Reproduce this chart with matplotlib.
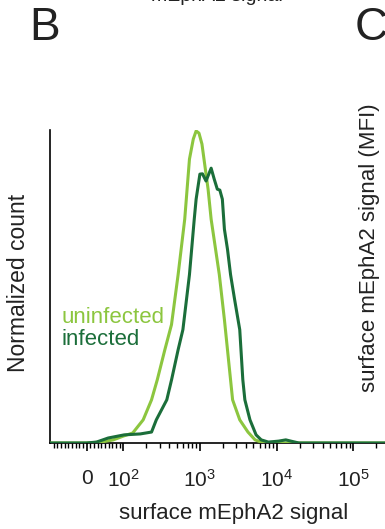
import matplotlib
matplotlib.use("Agg")
import matplotlib.pyplot as plt
import numpy as np

plt.rcParams["font.family"] = ["Liberation Sans", "DejaVu Sans"]
plt.rcParams["mathtext.fontset"] = "custom"
plt.rcParams["mathtext.rm"] = "Liberation Sans"
plt.rcParams["mathtext.it"] = "Liberation Sans"

C_LIGHT = "#8CC63F"
C_DARK = "#1B6E3A"

# histograms (signal, normalized count)
uninf_x = [-100, 0, 40, 73, 100, 133, 182, 234, 278, 349, 426, 520, 634, 731,
           820, 893, 973, 1064, 1131, 1279, 1402, 1792, 2089, 2362, 2671,
           3311, 4236, 5248, 6714, 2.6e5]
uninf_y = [0, 0, 0.003, 0.01, 0.022, 0.032, 0.074, 0.138, 0.202, 0.298, 0.378,
           0.538, 0.715, 0.907, 0.971, 0.997, 0.990, 0.955, 0.907, 0.811,
           0.715, 0.538, 0.394, 0.266, 0.138, 0.074, 0.035, 0.01, 0, 0]

inf_x = [-100, 0, 27, 59, 103, 167, 234, 270, 370, 427, 520, 600, 731, 844,
         893, 1000, 1080, 1202, 1402, 1538, 1687, 1820, 1963, 2089, 2291,
         2512, 2839, 3311, 3631, 3861, 4500, 5408, 6310, 7820, 10637, 13200,
         15400, 19600, 2.6e5]
inf_y = [0, 0, 0.003, 0.016, 0.026, 0.029, 0.035, 0.074, 0.138, 0.202, 0.298,
         0.362, 0.538, 0.715, 0.779, 0.859, 0.860, 0.837, 0.878, 0.843,
         0.811, 0.808, 0.779, 0.683, 0.619, 0.538, 0.458, 0.362, 0.202,
         0.138, 0.074, 0.026, 0.01, 0.003, 0.006, 0.01, 0.006, 0, 0]

major_ticks = [0, 1e2, 1e3, 1e4, 1e5]
major_labels = ["0", "$10^2$", "$10^3$", "$10^4$", "$10^5$"]

fig = plt.figure(figsize=(3.85, 5.29), dpi=100)
ax = fig.add_axes([50 / 385, 1 - 443 / 529, 1 - 50 / 385, (443 - 130) / 529])

ax.plot(uninf_x, uninf_y, color=C_LIGHT, lw=2.2, zorder=3)
ax.plot(inf_x, inf_y, color=C_DARK, lw=2.2, zorder=4)

ax.set_xscale("symlog", linthresh=100, linscale=0.43)
ax.set_xlim(-100, 2.6e5)
ax.set_ylim(0, 1.0)

minors = list(range(-90, 0, 10)) + list(range(10, 100, 10))
for k in (2, 3, 4, 5):
    minors += [m * 10 ** k for m in range(2, 10)]
ax.set_xticks(major_ticks)
ax.set_xticklabels(major_labels)
ax.set_xticks([m for m in minors if m < 2.6e5], minor=True)
ax.tick_params(axis="x", which="major", direction="out", length=6, width=1.2,
               labelsize=15, pad=13, labelcolor="#222222")
ax.tick_params(axis="x", which="minor", direction="out", length=3.5, width=1)
ax.set_yticks([])
for s in ("top", "right"):
    ax.spines[s].set_visible(False)
ax.spines["left"].set_linewidth(1.2)
ax.spines["bottom"].set_linewidth(1.2)

ax.text(0.035, 0.40, "uninfected", transform=ax.transAxes, color=C_LIGHT,
        fontsize=16, va="center", ha="left")
ax.text(0.035, 0.33, "infected", transform=ax.transAxes, color=C_DARK,
        fontsize=16, va="center", ha="left")

fig.text(19 / 385, 1 - 283 / 529, "Normalized count", rotation=90,
         ha="center", va="center", fontsize=16.5, color="#222222")
fig.text(234 / 385, 1 - 513 / 529, "surface mEphA2 signal", ha="center",
         va="center", fontsize=16, color="#222222")

# panel letters and cut-off neighbours
fig.text(45 / 385, 1 - 28 / 529, "B", ha="center", va="center", fontsize=33,
         color="#222222")
fig.text(355 / 385, 1 - 28 / 529, "C", ha="left", va="center", fontsize=33,
         color="#222222")
fig.text(217 / 385, 1 - 0.8 / 529, "mEphA2 signal", ha="center", va="baseline",
         fontsize=14, color="#222222")
fig.text(370 / 385, 1 - 248 / 529, "surface mEphA2 signal (MFI)", rotation=90,
         ha="center", va="center", fontsize=16, color="#222222")

fig.savefig("out.png", dpi=100)
